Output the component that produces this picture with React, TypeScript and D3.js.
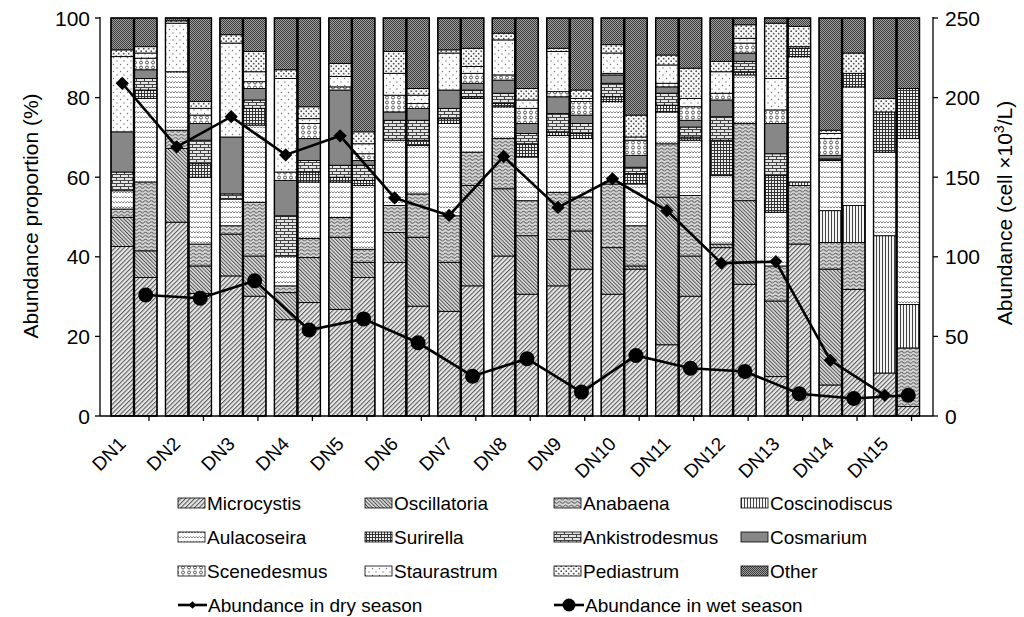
import * as d3 from 'd3';

const sites = ['DN1', 'DN2', 'DN3', 'DN4', 'DN5', 'DN6', 'DN7', 'DN8', 'DN9', 'DN10', 'DN11', 'DN12', 'DN13', 'DN14', 'DN15'];

const genera = [
  'Microcystis', 'Oscillatoria', 'Anabaena', 'Coscinodiscus',
  'Aulacoseira', 'Surirella', 'Ankistrodesmus', 'Cosmarium',
  'Scenedesmus', 'Staurastrum', 'Pediastrum', 'Other',
];

// share (%) of each genus per site, columns in the order of `genera`
const dryShares = [
  [42.6, 7.3, 2.1, 0, 4.6, 0, 4.7, 10.1, 0, 18.9, 1.7, 8.0],
  [48.7, 18.5, 4.6, 0, 14.7, 0, 0, 0, 0, 12.2, 0.6, 0.7],
  [35.2, 10.5, 2.1, 0, 6.7, 0, 1.3, 14.3, 0, 23.6, 2.1, 4.2],
  [24.2, 6.8, 1.7, 0, 7.5, 0, 10.1, 8.9, 2.1, 23.5, 2.2, 13.0],
  [26.8, 18.1, 5.0, 0, 8.9, 1.2, 3.0, 18.9, 0.8, 2.6, 3.3, 11.4],
  [38.6, 7.5, 6.8, 0, 16.4, 0, 5.0, 2.1, 4.2, 5.5, 5.5, 8.4],
  [26.3, 12.3, 11.7, 0, 23.2, 1.2, 2.6, 4.6, 0, 9.3, 0.8, 8.0],
  [40.2, 16.9, 12.6, 0, 8.0, 0.8, 2.6, 3.3, 1.3, 8.8, 1.7, 3.8],
  [32.7, 11.7, 11.8, 0, 14.3, 0.9, 4.6, 4.2, 1.3, 10.1, 0.8, 7.6],
  [30.6, 11.7, 16.0, 0, 20.7, 1.2, 3.4, 2.1, 0.4, 5.1, 2.1, 6.7],
  [17.9, 37.1, 13.4, 0, 8.0, 1.7, 3.0, 1.6, 0.9, 4.6, 2.5, 9.3],
  [42.3, 0.9, 0, 0, 17.2, 8.9, 5.9, 4.2, 1.7, 5.4, 2.6, 10.9],
  [9.9, 19.0, 8.8, 0, 13.5, 9.2, 5.5, 7.6, 3.4, 7.9, 13.9, 1.3],
  [7.8, 29.1, 6.7, 8.0, 12.6, 0, 0.4, 0.9, 4.2, 1.3, 0.8, 28.2],
  [10.8, 0, 0, 34.5, 21.0, 10.1, 0, 0, 0, 0, 3.4, 20.2],
];

const wetShares = [
  [34.8, 6.7, 17.3, 0, 21.0, 2.1, 2.9, 2.2, 2.9, 1.3, 1.6, 7.2],
  [30.8, 6.9, 5.5, 0, 16.8, 3.4, 5.9, 4.2, 2.1, 1.7, 1.7, 21.0],
  [30.1, 10.1, 13.5, 0, 19.4, 4.2, 2.1, 2.9, 1.7, 2.5, 5.1, 8.4],
  [28.5, 11.3, 4.8, 0, 14.2, 2.5, 2.9, 5.5, 3.8, 1.2, 3.0, 22.3],
  [34.8, 3.8, 3.3, 0, 16.0, 1.3, 3.8, 1.2, 1.7, 2.5, 3.0, 28.6],
  [27.6, 17.3, 10.9, 0, 12.2, 1.3, 5.0, 3.0, 1.2, 2.1, 1.7, 17.7],
  [32.7, 25.2, 8.4, 0, 13.5, 0.4, 1.7, 1.7, 2.5, 1.7, 4.6, 7.6],
  [30.6, 14.7, 8.8, 0, 11.0, 3.3, 2.6, 2.5, 3.8, 2.1, 2.9, 17.7],
  [36.9, 9.6, 8.5, 0, 14.7, 1.3, 2.5, 2.1, 3.4, 0.8, 2.1, 18.1],
  [36.9, 0.8, 10.1, 0, 10.5, 2.6, 1.6, 3.0, 3.8, 0.8, 5.5, 24.4],
  [30.1, 10.1, 15.2, 0, 13.9, 0.8, 2.5, 1.7, 3.4, 2.1, 7.6, 12.6],
  [33.1, 21.0, 19.4, 0, 12.2, 0.8, 2.6, 2.1, 2.5, 1.2, 3.4, 1.7],
  [43.2, 0, 14.7, 0.9, 31.5, 2.1, 0, 0, 0.4, 0, 5.1, 2.1],
  [31.8, 0, 11.8, 9.3, 29.8, 3.4, 0, 0, 0, 0, 5.1, 8.8],
  [2.4, 0, 14.7, 10.9, 41.7, 12.6, 0, 0, 0, 0, 0, 17.7],
];

// total abundance, cell x10^3/L
const dryAbundance = [209, 169, 188, 164, 176, 137, 126, 163, 131, 149, 129, 96, 97, 35, 13];
const wetAbundance = [76, 74, 85, 54, 61, 46, 25, 36, 15, 38, 30, 28, 14, 11, 13];

const leftTicks = [0, 20, 40, 60, 80, 100];
const rightTicks = [0, 50, 100, 150, 200, 250];

const W = 1024;
const H = 617;
const plot = { left: 100, right: 933, top: 18, bottom: 416 };
const font = "Arial, 'Liberation Sans', sans-serif";

const x = d3.scaleBand<string>().domain(sites).range([102, 919]);
const season = d3.scaleBand<string>().domain(['dry', 'wet']).range([9, 55]).paddingInner(0.04);
const yPct = d3.scaleLinear().domain([0, 100]).range([plot.bottom, plot.top]);
const yAbd = d3.scaleLinear().domain([0, 250]).range([plot.bottom, plot.top]);

const toRows = (shares: number[][]) =>
  shares.map((row, i) => {
    const o: any = { site: sites[i] };
    genera.forEach((g, j) => (o[g] = row[j]));
    return o;
  });

const stack = d3.stack<any>().keys(genera);
const drySeries = stack(toRows(dryShares));
const wetSeries = stack(toRows(wetShares));

const patId = (g: string) => `pat-${g}`;

const Patterns = () => (
  <defs>
    <pattern id={patId('Microcystis')} width={3.2} height={10} patternUnits="userSpaceOnUse" patternTransform="rotate(45)">
      <rect width={3.2} height={10} fill="#e6e6e6" />
      <line x1={0.5} y1={0} x2={0.5} y2={10} stroke="#5a5a5a" strokeWidth={1.1} />
    </pattern>
    <pattern id={patId('Oscillatoria')} width={2.6} height={10} patternUnits="userSpaceOnUse" patternTransform="rotate(-45)">
      <rect width={2.6} height={10} fill="#dedede" />
      <line x1={0.5} y1={0} x2={0.5} y2={10} stroke="#505050" strokeWidth={1} />
    </pattern>
    <pattern id={patId('Anabaena')} width={6} height={3.5} patternUnits="userSpaceOnUse">
      <rect width={6} height={3.5} fill="#d6d6d6" />
      <path d="M0 2 Q1.5 0.3 3 2 T6 2" fill="none" stroke="#555" strokeWidth={0.9} />
    </pattern>
    <pattern id={patId('Coscinodiscus')} width={3} height={4} patternUnits="userSpaceOnUse">
      <rect width={3} height={4} fill="#f4f4f4" />
      <line x1={0.5} y1={0} x2={0.5} y2={4} stroke="#444" strokeWidth={1} />
    </pattern>
    <pattern id={patId('Aulacoseira')} width={6} height={5} patternUnits="userSpaceOnUse">
      <rect width={6} height={5} fill="#fff" />
      <path d="M0 3 L1.5 1.5 L3 3 L4.5 1.5 L6 3" fill="none" stroke="#777" strokeWidth={0.9} />
    </pattern>
    <pattern id={patId('Surirella')} width={3} height={3} patternUnits="userSpaceOnUse">
      <rect width={3} height={3} fill="#eee" />
      <path d="M0.5 0 V3 M0 0.5 H3" stroke="#333" strokeWidth={1} />
    </pattern>
    <pattern id={patId('Ankistrodesmus')} width={8} height={6} patternUnits="userSpaceOnUse">
      <rect width={8} height={6} fill="#e4e4e4" />
      <path d="M0 0.5 H8 M0 3.5 H8 M0.5 0.5 V3.5 M4.5 3.5 V6" stroke="#444" strokeWidth={1} />
    </pattern>
    <pattern id={patId('Cosmarium')} width={4} height={4} patternUnits="userSpaceOnUse">
      <rect width={4} height={4} fill="#878787" />
    </pattern>
    <pattern id={patId('Scenedesmus')} width={6} height={5} patternUnits="userSpaceOnUse">
      <rect width={6} height={5} fill="#fff" />
      <circle cx={3} cy={2.5} r={1.5} fill="none" stroke="#444" strokeWidth={0.9} />
    </pattern>
    <pattern id={patId('Staurastrum')} width={7} height={7} patternUnits="userSpaceOnUse">
      <rect width={7} height={7} fill="#fcfcfc" />
      <circle cx={1.5} cy={1.5} r={0.7} fill="#777" />
      <circle cx={5} cy={5} r={0.7} fill="#777" />
    </pattern>
    <pattern id={patId('Pediastrum')} width={5} height={5} patternUnits="userSpaceOnUse">
      <rect width={5} height={5} fill="#f8f8f8" />
      <circle cx={1.2} cy={1.2} r={0.9} fill="#555" />
      <circle cx={3.7} cy={3.7} r={0.9} fill="#555" />
    </pattern>
    <pattern id={patId('Other')} width={2} height={2} patternUnits="userSpaceOnUse">
      <rect width={2} height={2} fill="#a0a0a0" />
      <rect width={1} height={1} fill="#3a3a3a" />
      <rect x={1} y={1} width={1} height={1} fill="#3a3a3a" />
    </pattern>
  </defs>
);

const Bars = ({ series, which }: { series: any[]; which: string }) => {
  const bx = (site: string) => (x(site) as number) + (season(which) as number);
  const bw = season.bandwidth();
  return (
    <g>
      {series.map((s) => (
        <g key={s.key} fill={`url(#${patId(s.key)})`} stroke="#000" strokeWidth={0.9}>
          {s.map((d: any) =>
            d[1] - d[0] > 0 ? (
              <rect key={d.data.site} x={bx(d.data.site)} y={yPct(d[1])} width={bw} height={yPct(d[0]) - yPct(d[1])} />
            ) : null
          )}
        </g>
      ))}
      {sites.map((s) => (
        <rect key={s} x={bx(s)} y={yPct(100)} width={bw} height={yPct(0) - yPct(100)} fill="none" stroke="#000" strokeWidth={1.4} />
      ))}
    </g>
  );
};

const legendCols = [178, 365, 554, 741];
const legendRows = [503, 537, 571, 605];

export default function App() {
  const bw = season.bandwidth();
  const dryX = (i: number) => (x(sites[i]) as number) + (season('dry') as number) + bw / 2;
  const wetX = (i: number) => (x(sites[i]) as number) + (season('wet') as number) + bw / 2;

  const line = d3.line<number[]>();
  const dryPath = line(dryAbundance.map((v, i) => [dryX(i), yAbd(v)]));
  const wetPath = line(wetAbundance.map((v, i) => [wetX(i), yAbd(v)]));
  const diamond = d3.symbol(d3.symbolSquare, 88)();
  const smallDiamond = d3.symbol(d3.symbolSquare, 30)();

  return (
    <svg width={W} height={H} style={{ position: 'absolute', left: 0, top: 0, background: '#fff' }} fontFamily={font}>
      <Patterns />

      <Bars series={drySeries} which="dry" />
      <Bars series={wetSeries} which="wet" />

      {/* abundance lines */}
      <path d={dryPath as string} fill="none" stroke="#000" strokeWidth={2.6} />
      <path d={wetPath as string} fill="none" stroke="#000" strokeWidth={2.6} />
      {dryAbundance.map((v, i) => (
        <path key={i} d={diamond as string} transform={`translate(${dryX(i)},${yAbd(v)}) rotate(45)`} fill="#000" />
      ))}
      {wetAbundance.map((v, i) => (
        <circle key={i} cx={wetX(i)} cy={yAbd(v)} r={7.5} fill="#000" />
      ))}

      {/* axes */}
      <g stroke="#000" strokeWidth={1.3}>
        <line x1={plot.left} y1={plot.top - 1} x2={plot.left} y2={plot.bottom} />
        <line x1={plot.right} y1={plot.top - 1} x2={plot.right} y2={plot.bottom} />
        <line x1={plot.left} y1={plot.bottom} x2={plot.right} y2={plot.bottom} />
        {leftTicks.map((t) => (
          <line key={t} x1={plot.left - 5} y1={yPct(t)} x2={plot.left} y2={yPct(t)} />
        ))}
        {rightTicks.map((t) => (
          <line key={t} x1={plot.right} y1={yAbd(t)} x2={plot.right + 5} y2={yAbd(t)} />
        ))}
        {sites.map((s) => (
          <line key={s} x1={(x(s) as number) + 47} y1={plot.bottom} x2={(x(s) as number) + 47} y2={plot.bottom + 5} />
        ))}
      </g>
      <g fontSize={21} fill="#000">
        {leftTicks.map((t) => (
          <text key={t} x={plot.left - 10} y={yPct(t)} textAnchor="end" dominantBaseline="central">{t}</text>
        ))}
        {rightTicks.map((t) => (
          <text key={t} x={plot.right + 12} y={yAbd(t)} dominantBaseline="central">{t}</text>
        ))}
      </g>
      <g fontSize={19}>
        {sites.map((s) => (
          <text key={s} textAnchor="end" transform={`translate(${(x(s) as number) + 25},${plot.bottom + 29}) rotate(-45)`}>{s}</text>
        ))}
      </g>

      <text fontSize={21} textAnchor="middle" transform={`translate(38,216) rotate(-90)`}>
        Abundance proportion (%)
      </text>
      <text fontSize={21} textAnchor="middle" transform={`translate(1012,213) rotate(-90)`}>
        Abundance (cell ×10<tspan dy={-8} fontSize={14}>3</tspan><tspan dy={8}>/L)</tspan>
      </text>

      {/* legend */}
      <g fontSize={19}>
        {genera.map((g, i) => {
          const cx = legendCols[i % 4];
          const cy = legendRows[Math.floor(i / 4)];
          return (
            <g key={g}>
              <rect x={cx} y={cy - 5} width={27} height={10} fill={`url(#${patId(g)})`} stroke="#000" strokeWidth={0.8} />
              <text x={cx + 29} y={cy} dominantBaseline="central">{g}</text>
            </g>
          );
        })}
        <g>
          <line x1={legendCols[0]} y1={legendRows[3]} x2={legendCols[0] + 29} y2={legendRows[3]} stroke="#000" strokeWidth={2.6} />
          <path d={smallDiamond as string} transform={`translate(${legendCols[0] + 14.5},${legendRows[3]}) rotate(45)`} />
          <text x={legendCols[0] + 30} y={legendRows[3]} dominantBaseline="central">Abundance in dry season</text>
        </g>
        <g>
          <line x1={legendCols[2]} y1={legendRows[3]} x2={legendCols[2] + 30} y2={legendRows[3]} stroke="#000" strokeWidth={2.6} />
          <circle cx={legendCols[2] + 15} cy={legendRows[3]} r={6.5} />
          <text x={legendCols[2] + 31} y={legendRows[3]} dominantBaseline="central">Abundance in wet season</text>
        </g>
      </g>
    </svg>
  );
}
